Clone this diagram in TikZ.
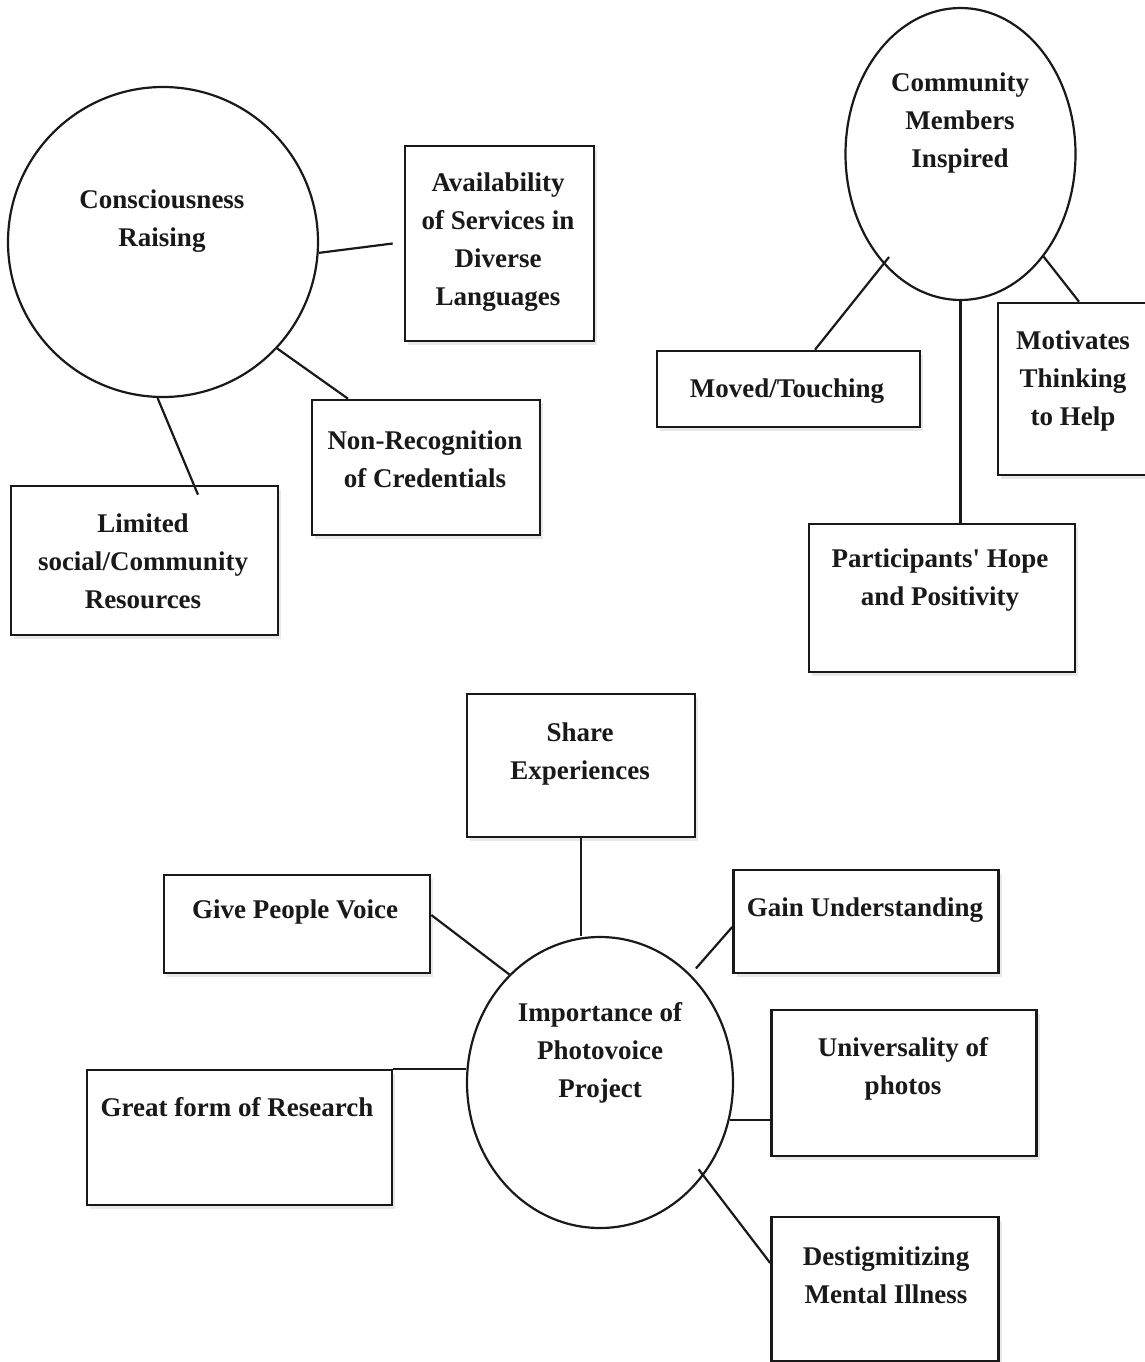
\documentclass[tikz,border=0pt]{standalone}
\usepackage{fontspec}
\setmainfont{Liberation Serif}
\usetikzlibrary{shapes.geometric,shadows}
\begin{document}
\begin{tikzpicture}[x=1pt,y=-1pt,
  bubble/.style={circle,draw=black!90,line width=2.2pt},
  oval/.style={ellipse,draw=black!90,line width=2.2pt},
  card/.style={rectangle,draw=black!90,line width=2.6pt,fill=white,
    drop shadow={shadow xshift=3pt,shadow yshift=-4pt,opacity=0.18}},
  lbl/.style={align=center,font=\bfseries\fontsize{27}{38}\selectfont,text=black!90},
  link/.style={draw=black!90,line width=2.2pt}]
\useasboundingbox (0,0) rectangle (1145,1362);
%
\node[bubble,minimum size=310pt] (cr) at (163,242) {};
\node[card,minimum width=189pt,minimum height=195pt] (avail) at (499.5,243.5) {};
\node[card,minimum width=228pt,minimum height=135pt] (nonrec) at (426,467.5) {};
\node[card,minimum width=267pt,minimum height=149pt] (limited) at (144.5,560.5) {};
%
\node[oval,minimum width=230pt,minimum height=292pt] (cmi) at (960.5,154) {};
\node[card,minimum width=263pt,minimum height=76pt] (moved) at (788.5,389) {};
\node[card,minimum width=152pt,minimum height=172pt] (motiv) at (1074,389) {};
\node[card,minimum width=266pt,minimum height=148pt] (part) at (942,598) {};
%
\node[oval,minimum width=266pt,minimum height=291pt] (ipp) at (600,1082.5) {};
\node[card,minimum width=228pt,minimum height=143pt] (share) at (581,765.5) {};
\node[card,minimum width=266pt,minimum height=98pt] (give) at (297,924) {};
\node[card,minimum width=265pt,minimum height=103pt] (gain) at (866,921.5) {};
\node[card,minimum width=265pt,minimum height=146pt] (univ) at (904,1083) {};
\node[card,minimum width=305pt,minimum height=135pt] (great) at (239.5,1137.5) {};
\node[card,minimum width=227pt,minimum height=144pt] (destig) at (885,1289) {};
%links
\draw[link] (cr.-4)--([xshift=-11pt]avail.west);
\draw[link] (cr.-43)--([xshift=-78pt]nonrec.north);
\draw[link] (cr.-92)--([xshift=53.5pt,yshift=-10pt]limited.north);
\draw[link,shorten <=-9pt] (cmi.-125)--([xshift=26.5pt]moved.north);
\draw[link] (cmi.-51)--([xshift=5pt]motiv.north);
\draw[link] (cmi.south)--(cmi.south |- part.north);
\draw[link] (share.south)--(share.south |- ipp.north);
\draw[link] (ipp.130)--([yshift=9pt]give.east);
\draw[link,shorten <=8pt] (ipp.50)--([yshift=-5.5pt]gain.west);
\draw[link] (ipp.-16)--(ipp.-16 -| univ.west);
\draw[link] (great.north east)--(great.north east -| ipp.west);
\draw[link,shorten <=-8pt] (ipp.-42)--([yshift=26pt]destig.west);
%text
\node[lbl] (crtext) at (162,221) {Consciousness\\Raising};
\node[lbl] (availtext) at (498,242) {Availability\\of Services in\\Diverse\\Languages};
\node[lbl] (nonrectext) at (425,459) {Non-Recognition\\of Credentials};
\node[lbl] (limitedtext) at (143,561) {Limited\\social/Community\\Resources};
\node[lbl] (cmitext) at (960,123.5) {Community\\Members\\Inspired};
\node[lbl] (movedtext) at (787,391) {Moved/Touching};
\node[lbl] (motivtext) at (1073,381) {Motivates\\Thinking\\to Help};
\node[lbl] (parttext) at (940,580) {Participants\textquotesingle{} Hope\\and Positivity};
\node[lbl] (ipptext) at (600,1053) {Importance of\\Photovoice\\Project};
\node[lbl] (sharetext) at (580,754) {Share\\Experiences};
\node[lbl] (givetext) at (295,912) {Give People Voice};
\node[lbl] (gaintext) at (865,910) {Gain Understanding};
\node[lbl] (univtext) at (903,1068.5) {Universality of\\photos};
\node[lbl] (greattext) at (237,1107) {Great form of Research};
\node[lbl] (destigtext) at (886,1275) {Destigmitizing\\Mental Illness};
\end{tikzpicture}
\end{document}
